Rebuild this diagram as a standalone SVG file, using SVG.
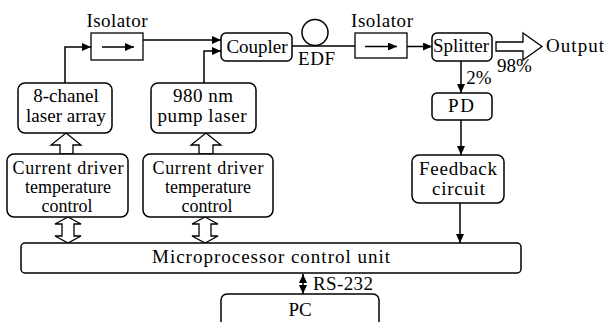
<svg xmlns="http://www.w3.org/2000/svg" width="605" height="322" viewBox="0 0 605 322" font-family="'Liberation Serif', 'DejaVu Serif', serif">
<style>
  text { font-family: 'Liberation Serif', 'DejaVu Serif', serif; font-size: 19px; fill: #000; text-anchor: middle; }
  .sm { font-size: 18px; }
  .box { fill: #fff; stroke: #000; stroke-width: 1.5; }
  .iso { fill: #fff; stroke: #000; stroke-width: 1.3; }
  .ln { fill: none; stroke: #000; stroke-width: 1.5; }
  .hollow { fill: #fff; stroke: #000; stroke-width: 1.3; stroke-linejoin: miter; }
</style>
<defs>
  <marker id="ah" markerUnits="userSpaceOnUse" markerWidth="10" markerHeight="8" refX="9" refY="4" orient="auto-start-reverse">
    <path d="M0,0 L9,4 L0,8 Z" fill="#000"/>
  </marker>
</defs>
<rect width="605" height="322" fill="#fff"/>

<g id="connectors">
  <path class="ln" d="M65,83 V47 H91" marker-end="url(#ah)"/>
  <path class="ln" d="M143,40 H221" marker-end="url(#ah)"/>
  <path class="ln" d="M204,83 V51 H221" marker-end="url(#ah)"/>
  <path class="ln" d="M292,46 H355"/>
  <path class="ln" d="M407,46.5 H432" marker-end="url(#ah)"/>
  <path class="ln" d="M461,61 V93" marker-end="url(#ah)"/>
  <path class="ln" d="M461,120 V155" marker-end="url(#ah)"/>
  <path class="ln" d="M460,203 V243" marker-end="url(#ah)"/>
  <path class="ln" d="M303,274 V294" marker-start="url(#ah)" marker-end="url(#ah)"/>
  <polygon class="hollow" points="66,133 81,145 73,145 73,154 60,154 60,145 51,145"/>
  <polygon class="hollow" points="206,133 221,145 213,145 213,154 199,154 199,145 191,145"/>
  <polygon class="hollow" points="68,217 81,224 74,224 74,236 81,236 68,243 55,236 62,236 62,224 55,224"/>
  <polygon class="hollow" points="205,217 218,224 211,224 211,236 218,236 205,243 192,236 199,236 199,224 192,224"/>
  <polygon class="hollow" points="496,42 523,42 523,33 542,46.5 523,60 523,51 496,51"/>
</g>

<g id="isolator1">
  <rect class="iso" x="91" y="33" width="52" height="27"/>
  <path class="ln" d="M102,47 H134" marker-end="url(#ah)"/>
  <text x="117" y="27" textLength="61" lengthAdjust="spacing">Isolator</text>
</g>
<g id="coupler">
  <rect class="box" x="221" y="33" width="71" height="28" rx="5"/>
  <text x="257" y="53">Coupler</text>
</g>
<g id="edf">
  <circle cx="315" cy="32.5" r="13" fill="none" stroke="#000" stroke-width="1.5"/>
  <text x="316.5" y="65" textLength="37" lengthAdjust="spacing">EDF</text>
</g>
<g id="isolator2">
  <rect class="iso" x="355" y="33" width="52" height="25"/>
  <path class="ln" d="M365,46.5 H397" marker-end="url(#ah)"/>
  <text x="382" y="27" textLength="62" lengthAdjust="spacing">Isolator</text>
</g>
<g id="splitter">
  <rect class="box" x="432" y="33" width="60" height="28" rx="5"/>
  <text x="461" y="52">Splitter</text>
</g>
<g id="output">
  <text x="575" y="52" textLength="58" lengthAdjust="spacing">Output</text>
  <text x="514.5" y="72">98%</text>
  <text x="479" y="84">2%</text>
</g>
<g id="pd">
  <rect class="box" x="432" y="93" width="60" height="27" rx="5"/>
  <text x="461" y="112" textLength="26" lengthAdjust="spacing">PD</text>
</g>
<g id="feedback">
  <rect class="box" x="412" y="155" width="92" height="48" rx="7"/>
  <text x="458" y="175" textLength="78" lengthAdjust="spacing">Feedback</text>
  <text x="458.5" y="195" textLength="53" lengthAdjust="spacing">circuit</text>
</g>
<g id="laser-array">
  <rect class="box" x="18" y="83" width="94" height="50" rx="7"/>
  <text x="66" y="102">8-chanel</text>
  <text x="66" y="122" textLength="80" lengthAdjust="spacing">laser array</text>
</g>
<g id="pump-laser">
  <rect class="box" x="151" y="83" width="105" height="50" rx="7"/>
  <text x="203" y="102" textLength="60" lengthAdjust="spacing">980 nm</text>
  <text x="202" y="122" textLength="89" lengthAdjust="spacing">pump laser</text>
</g>
<g id="driver1">
  <rect class="box" x="7" y="154" width="121" height="63" rx="7"/>
  <text class="sm" x="68" y="174" textLength="111" lengthAdjust="spacing">Current driver</text>
  <text class="sm" x="68" y="193">temperature</text>
  <text class="sm" x="67" y="212">control</text>
</g>
<g id="driver2">
  <rect class="box" x="143" y="154" width="130" height="63" rx="7"/>
  <text class="sm" x="208" y="174" textLength="111" lengthAdjust="spacing">Current driver</text>
  <text class="sm" x="208" y="193">temperature</text>
  <text class="sm" x="207" y="212">control</text>
</g>
<g id="mcu">
  <rect class="box" x="21" y="243" width="500" height="30" rx="4"/>
  <text x="271" y="263" textLength="238" lengthAdjust="spacing">Microprocessor control unit</text>
</g>
<g id="rs232">
  <text x="343" y="290" textLength="60" lengthAdjust="spacing">RS-232</text>
</g>
<g id="pc">
  <rect class="box" x="221" y="294" width="158" height="40" rx="6"/>
  <text x="300" y="316">PC</text>
</g>
</svg>
